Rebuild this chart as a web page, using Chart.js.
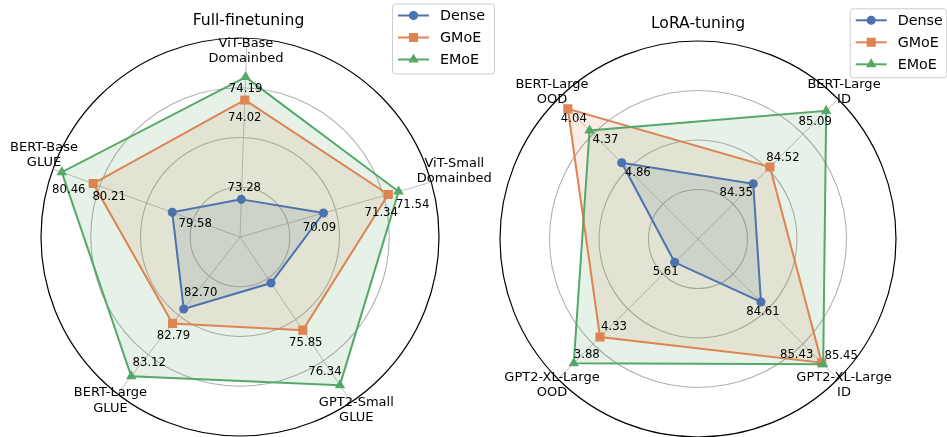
<!DOCTYPE html>
<html>
<head>
<meta charset="utf-8">
<script src="https://cdn.jsdelivr.net/npm/chart.js@4.4.1/dist/chart.umd.min.js"></script>
<style>
  html, body { margin: 0; padding: 0; background: #fff; width: 947px; height: 437px; overflow: hidden; }
  canvas { position: absolute; top: 0; }
  #ff { left: 0; }
  #lora { left: 480px; }
</style>
</head>
<body>
<canvas id="ff" width="500" height="437"></canvas>
<canvas id="lora" width="467" height="437"></canvas>
<script>
// ---- data ----
const methods = ['Dense', 'GMoE', 'EMoE'];

// Full-finetuning
const ffTasks = [['ViT-Base', 'Domainbed'], ['ViT-Small', 'Domainbed'], ['GPT2-Small', 'GLUE'], ['BERT-Large', 'GLUE'], ['BERT-Base', 'GLUE']];
const ffDense = [73.28, 70.09, 75.43, 82.70, 79.58];
const ffGMoE  = [74.02, 71.34, 75.85, 82.79, 80.21];
const ffEMoE  = [74.19, 71.54, 76.34, 83.12, 80.46];
// score at the centre and at the rim of every spoke
const ffSpokeInner = [73.00, 68.48, 75.02, 82.25, 79.04];
const ffSpokeOuter = [74.48, 72.17, 76.49, 83.23, 80.53];

// LoRA-tuning
const loraTasks = [['BERT-Large', 'ID'], ['GPT2-XL-Large', 'ID'], ['GPT2-XL-Large', 'OOD'], ['BERT-Large', 'OOD']];
const loraDense = [84.35, 84.61, 5.61, 4.86];
const loraGMoE  = [84.52, 85.43, 4.33, 4.04];
const loraEMoE  = [85.09, 85.45, 3.88, 4.37];
// OOD spokes run the other way: lower error sits further out
const loraSpokeInner = [83.79, 83.76, 6.01, 6.02];
const loraSpokeOuter = [85.21, 85.65, 3.61, 3.89];

// ---- styles ----
const colors = ['#4C72B0', '#DD8452', '#55A868'];
const fills = ['rgba(76,114,176,0.15)', 'rgba(221,132,82,0.15)', 'rgba(85,168,104,0.15)'];
const markers = ['circle', 'rect', 'triangle'];
const markerRadius = [3.9, 5.5, 4.7];
const FONT = '"DejaVu Sans", sans-serif';

function drawMarker(ctx, style, r, x, y) {
  ctx.beginPath();
  if (style === 'circle') {
    ctx.arc(x, y, r, 0, Math.PI * 2);
  } else if (style === 'rect') {
    const s = r * Math.SQRT1_2;
    ctx.rect(x - s, y - s, 2 * s, 2 * s);
  } else {
    ctx.moveTo(x, y - r);
    ctx.lineTo(x + r * Math.sin(2 * Math.PI / 3), y - r * Math.cos(2 * Math.PI / 3));
    ctx.lineTo(x + r * Math.sin(4 * Math.PI / 3), y - r * Math.cos(4 * Math.PI / 3));
    ctx.closePath();
  }
  ctx.fill();
  ctx.stroke();
}

function decorPlugin(cfg) {
  return {
    id: 'decor',
    afterDraw(chart) {
      const ctx = chart.ctx;
      const scale = chart.scales.r;
      ctx.save();
      ctx.fillStyle = '#000';
      ctx.textAlign = 'center';
      ctx.textBaseline = 'middle';

      // title
      ctx.font = '15.6px ' + FONT;
      ctx.fillText(cfg.title, cfg.titleAt[0], cfg.titleAt[1]);

      // spoke names
      ctx.font = '13px ' + FONT;
      cfg.tasks.forEach((lines, i) => {
        const p = scale.getPointPosition(i, scale.drawingArea);
        const cx = p.x + cfg.taskOffsets[i][0];
        const cy = p.y + cfg.taskOffsets[i][1];
        lines.forEach((t, n) => ctx.fillText(t, cx, cy + (n - (lines.length - 1) / 2) * 15.6));
      });

      // value annotations next to each marker
      ctx.font = '11.7px ' + FONT;
      cfg.series.forEach((vals, k) => {
        const meta = chart.getDatasetMeta(k);
        vals.forEach((v, i) => {
          const off = cfg.valueOffsets[k][i];
          if (!off) return;
          const el = meta.data[i];
          ctx.fillText(v.toFixed(2), el.x + off[0], el.y + off[1]);
        });
      });

      // legend
      const L = cfg.legend;
      ctx.beginPath();
      if (ctx.roundRect) ctx.roundRect(L.x + 0.5, L.y + 0.5, L.w, L.h, 3);
      else ctx.rect(L.x + 0.5, L.y + 0.5, L.w, L.h);
      ctx.fillStyle = 'rgba(255,255,255,0.8)';
      ctx.fill();
      ctx.strokeStyle = '#cccccc';
      ctx.lineWidth = 1;
      ctx.stroke();
      ctx.textAlign = 'left';
      ctx.font = '14.3px ' + FONT;
      methods.forEach((m, k) => {
        const y = L.y + 12 + 22 * k;
        ctx.strokeStyle = colors[k];
        ctx.lineWidth = 2;
        ctx.beginPath();
        ctx.moveTo(L.x + 6, y);
        ctx.lineTo(L.x + 37, y);
        ctx.stroke();
        ctx.fillStyle = colors[k];
        ctx.lineWidth = 1.3;
        drawMarker(ctx, markers[k], markerRadius[k], L.x + 21.5, y);
        ctx.fillStyle = '#000';
        ctx.fillText(m, L.x + 48, y + 0.5);
      });
      ctx.restore();
    }
  };
}

function radarChart(canvasId, tasks, series, inner, outer, startAngle, padding, decor) {
  return new Chart(document.getElementById(canvasId), {
    type: 'radar',
    data: {
      labels: tasks.map(t => t.join(' ')),
      datasets: series.map((vals, k) => ({
        label: methods[k],
        data: vals.map((v, i) => (v - inner[i]) / (outer[i] - inner[i])),
        borderColor: colors[k],
        backgroundColor: fills[k],
        borderWidth: 2,
        fill: true,
        tension: 0,
        pointStyle: markers[k],
        pointRadius: markerRadius[k],
        pointBackgroundColor: colors[k],
        pointBorderColor: colors[k],
        pointBorderWidth: 1.3,
        order: 2 - k
      }))
    },
    options: {
      responsive: false,
      animation: false,
      devicePixelRatio: 1,
      layout: { padding },
      plugins: {
        legend: { display: false },
        tooltip: { enabled: false },
        title: { display: false },
        // all shaded areas first, outlines and markers above them
        filler: { drawTime: 'beforeDatasetsDraw' }
      },
      scales: {
        r: {
          min: 0,
          max: 1,
          startAngle,
          ticks: { display: false, stepSize: 0.25 },
          pointLabels: { display: false },
          grid: {
            circular: true,
            color: c => (c.tick && c.tick.value === 1 ? '#000000' : '#b0b0b0'),
            lineWidth: c => (c.tick && c.tick.value === 1 ? 1.2 : 1.1)
          },
          angleLines: { color: '#b0b0b0', lineWidth: 0.8 }
        }
      }
    },
    plugins: [decorPlugin(Object.assign({ tasks, series }, decor))]
  });
}

radarChart('ff', ffTasks, [ffDense, ffGMoE, ffEMoE], ffSpokeInner, ffSpokeOuter, 2,
  { left: 41, top: 38, right: 61, bottom: 1 },
  {
    title: 'Full-finetuning',
    titleAt: [248.5, 20.5],
    taskOffsets: [[-1, 13], [23, -11], [5, 8], [-7, 7], [-9, -14]],
    valueOffsets: [
      [[3, -11], [-4, 15], null, [17, -16], [23, 12]],
      [[0, 18], [-7, 18], [3, 13], [1, 13], [16, 13]],
      [[0, 12], [14, 13], [-15, -13], [18, -13], [7, 18]]
    ],
    legend: { x: 392, y: 3.5, w: 102, h: 70 }
  });

radarChart('lora', loraTasks, [loraDense, loraGMoE, loraEMoE], loraSpokeInner, loraSpokeOuter, 45,
  { left: 20, top: 41, right: 51, bottom: 0 },
  {
    title: 'LoRA-tuning',
    titleAt: [218, 24],
    taskOffsets: [[6, -7], [6, 6], [-6, 6], [-6, -7]],
    valueOffsets: [
      [[-17, 9], [2, 10], [-9, 10], [16, 10]],
      [[13, -9], [-25, -8], [14, -10], [6, 10]],
      [[-11, 11], [18, -8], [13, -8], [16, 9]]
    ],
    legend: { x: 369.7, y: 8.3, w: 96.6, h: 69 }
  });
</script>
</body>
</html>
